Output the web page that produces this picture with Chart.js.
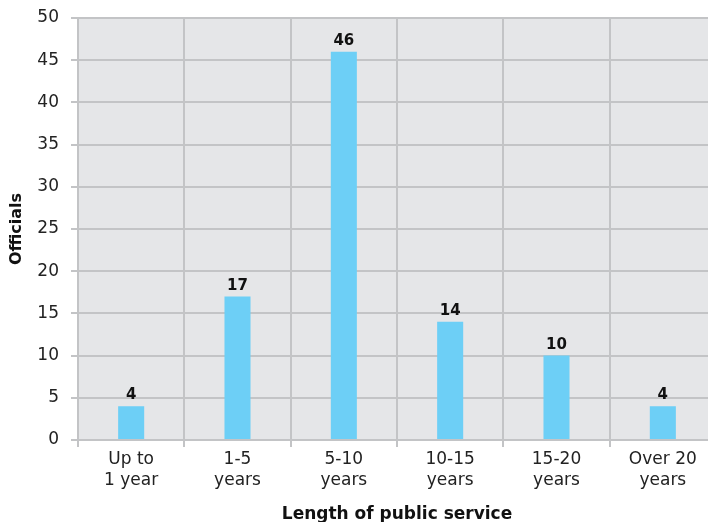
<!DOCTYPE html>
<html><head><meta charset="utf-8">
<script src="https://cdn.jsdelivr.net/npm/chart.js@4"></script>
<style>html,body{margin:0;padding:0;overflow:hidden;background:#fff;width:708px;height:522px}
#wrap{position:absolute;left:0;top:0;width:724px;height:522px}</style>
</head><body><div id="wrap"><canvas id="c" width="724" height="522"></canvas></div>
<script>
const categories = [["Up to","1 year"],["1-5","years"],["5-10","years"],["10-15","years"],["15-20","years"],["Over 20","years"]];
const officials = [4, 17, 46, 14, 10, 4];
const yTicks = [0,5,10,15,20,25,30,35,40,45,50];
const xTitle = "Length of public service";
const yTitle = "Officials";

const FONT = "'DejaVu Sans', Verdana, sans-serif";
const GRID = "#c3c4c6";

const bgPlugin = {
  id: 'bg',
  beforeDraw(chart){
    const {ctx, chartArea:a} = chart;
    ctx.save(); ctx.fillStyle = "#e5e6e8";
    ctx.fillRect(a.left, a.top, a.right-a.left, a.bottom-a.top);
    ctx.restore();
  }
};
const labelPlugin = {
  id: 'vals',
  afterDatasetsDraw(chart){
    const {ctx} = chart;
    const meta = chart.getDatasetMeta(0);
    ctx.save();
    ctx.font = "bold 15px " + FONT;
    ctx.fillStyle = "#111";
    ctx.textAlign = "center"; ctx.textBaseline = "alphabetic";
    meta.data.forEach((bar, i) => {
      ctx.fillText(String(officials[i]), bar.x, bar.y - 7);
    });
    ctx.restore();
  }
};

new Chart(document.getElementById('c'), {
  type: 'bar',
  data: { labels: categories, datasets: [{ data: officials, backgroundColor: "#6dcff6", barPercentage: 0.49, categoryPercentage: 0.5 }] },
  options: {
    responsive: false, animation: false,
    layout: { padding: { top: 18, right: 8, left: 0, bottom: 0 } },
    plugins: { legend: { display: false }, tooltip: { enabled: false } },
    scales: {
      x: {
        grid: { color: GRID, lineWidth: 2, offset: true, tickLength: 7, drawOnChartArea: true },
        border: { color: GRID, width: 2 },
        ticks: { color: "#222", font: { family: FONT, size: 17, lineHeight: 1.25 }, padding: 2, maxRotation: 0, autoSkip: false },
        title: { display: true, text: xTitle, color: "#111", font: { family: FONT, size: 17, weight: 'bold' }, padding: { top: 4, bottom: -3 } },
        afterFit(s){ s.height = 82; s.paddingLeft = 0; s.paddingRight = 0; }
      },
      y: {
        min: 0, max: 50,
        afterBuildTicks(s){ s.ticks = yTicks.map(v => ({value: v})); },
        grid: { color: GRID, lineWidth: 2, tickLength: 7 },
        border: { color: GRID, width: 2 },
        ticks: { color: "#222", font: { family: FONT, size: 17 }, padding: 12 },
        title: { display: true, text: yTitle, color: "#111", font: { family: FONT, size: 16, weight: 'bold' }, padding: { top: 7, bottom: 0 } },
        afterFit(s){ s.width = 78; s.paddingTop = 0; s.paddingBottom = 0; }
      }
    }
  },
  plugins: [bgPlugin, labelPlugin]
});
</script></body></html>
